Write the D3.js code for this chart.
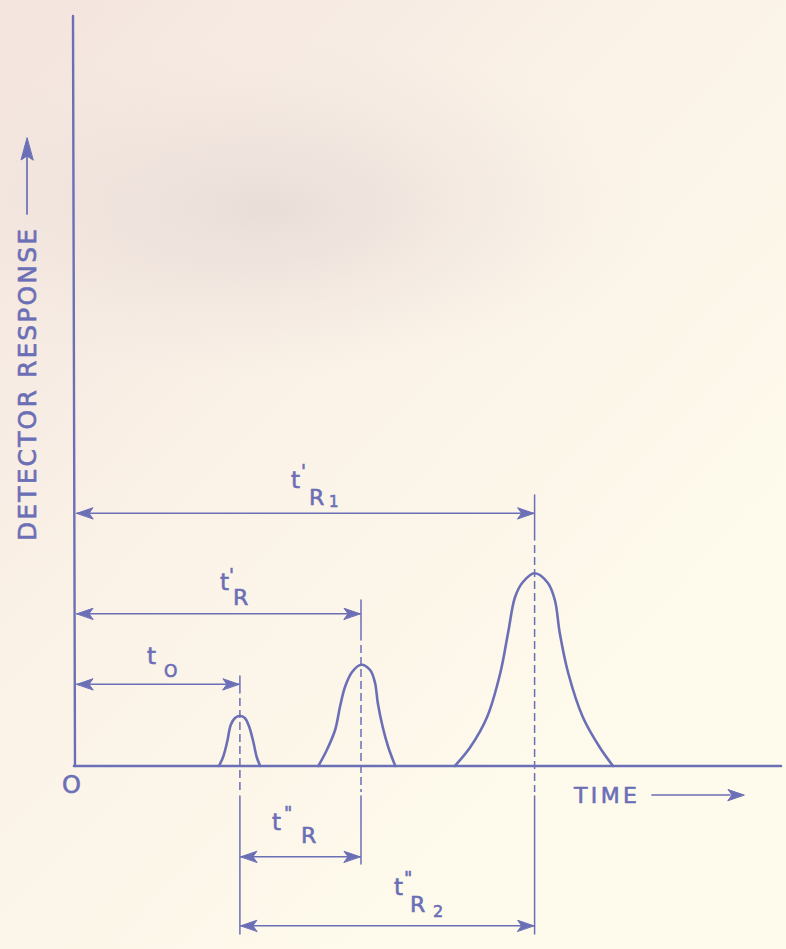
<!DOCTYPE html>
<html>
<head>
<meta charset="utf-8">
<script src="https://cdn.jsdelivr.net/npm/d3@7"></script>
<style>
  body { margin: 0; background: #fdf8ea; }
  svg { display: block; }
  text { font-family: "DejaVu Sans", sans-serif; fill: #6b6fb6; stroke: #6b6fb6; stroke-width: 0.6; }
</style>
</head>
<body>
<div id="chart"></div>
<script>
//////////////////////////////////////////////////////////////////////
////////////////////// Data //////////////////////////////////////////
//////////////////////////////////////////////////////////////////////

// peak profiles: [time, detector response]
const peak1 = [[20.7,0],[21.3,1.2],[21.9,3.3],[22.4,5.5],[23.0,6.4],[23.7,6.7],
  [24.4,6.4],[25.0,5.3],[25.6,3.3],[26.1,1.2],[26.6,0]]
const peak2 = [[34.9,0],[36.1,2.1],[37.3,4.8],[38.0,7.9],[38.7,10.5],[39.7,12.5],
  [41.0,13.5],[42.3,12.8],[43.0,11.1],[43.4,8.4],[44.1,5.2],[44.9,2.5],[45.9,0]]
const peak3 = [[54.4,0],[56.6,2.5],[59.0,6.5],[60.9,12.4],[62.0,17.7],[63.0,22.5],
  [64.1,24.5],[65.8,25.7],[67.7,24.4],[68.7,22.1],[69.4,17.7],[70.6,12.4],
  [72.7,6.5],[75.1,2.5],[77.0,0]]

// retention times: t0, t'R, t'R1
const peakTimes = [23.7, 41.0, 65.8]

// dimension arrows
const dimNames = ["t'R1", "t'R", "t0", "t\"R", "t\"R2"]
const dimStart = [0, 0, 0, 23.7, 23.7]
const dimEnd   = [65.8, 41.0, 23.7, 41.0, 65.8]

const axisLabels = { origin: "O", x: "TIME", y: "DETECTOR RESPONSE" }

//////////////////////////////////////////////////////////////////////
////////////////////// Chart /////////////////////////////////////////
//////////////////////////////////////////////////////////////////////

const width = 786
const height = 949
const ink = "#6b6fb6"

const svg = d3.select("#chart")
  .append("svg")
  .attr("width", width)
  .attr("height", height)

// paper
const defs = svg.append("defs")
const lg = defs.append("linearGradient").attr("id", "paper")
  .attr("x1", 0).attr("y1", 0.1).attr("x2", 0.7).attr("y2", 0.9)
lg.append("stop").attr("offset", 0).attr("stop-color", "#f4e6df")
lg.append("stop").attr("offset", 0.5).attr("stop-color", "#fbf3e8")
lg.append("stop").attr("offset", 1).attr("stop-color", "#fefbec")
const rg = defs.append("radialGradient").attr("id", "smudge")
rg.append("stop").attr("offset", 0).attr("stop-color", "#ddd0cf").attr("stop-opacity", 0.55)
rg.append("stop").attr("offset", 0.6).attr("stop-color", "#e6dad6").attr("stop-opacity", 0.25)
rg.append("stop").attr("offset", 1).attr("stop-color", "#ede2dc").attr("stop-opacity", 0)

svg.append("rect").attr("width", width).attr("height", height).attr("fill", "url(#paper)")
svg.append("ellipse").attr("cx", 270).attr("cy", 210).attr("rx", 390).attr("ry", 170).attr("fill", "url(#smudge)")

const x = d3.scaleLinear().domain([0, 101]).range([74, 781])
const y = d3.scaleLinear().domain([0, 100]).range([766, 16])

const g = svg.append("g")
  .attr("stroke", ink)
  .attr("fill", "none")
  .attr("stroke-linecap", "round")

// axes
g.append("line")
  .attr("x1", x(0) - 1).attr("y1", y(100))
  .attr("x2", x(0) + 1).attr("y2", y(0))
  .attr("stroke-width", 2.4)
g.append("line")
  .attr("x1", x(0)).attr("y1", y(0))
  .attr("x2", x(101)).attr("y2", y(0))
  .attr("stroke-width", 2.6)

// peaks
const line = d3.line()
  .x(d => x(d[0]))
  .y(d => y(d[1]))
  .curve(d3.curveCatmullRom.alpha(0.5))

g.selectAll(".peak")
  .data([peak1, peak2, peak3])
  .join("path")
  .classed("peak", true)
    .attr("d", line)
    .attr("stroke-width", 2.6)

// vertical marker lines (top tick, dashed through peak, solid below)
const markTop = [676, 600, 495]
const markSolidEnd = [693, 640, 540]
const markBottom = [934, 864, 934]
const dashEnd = 792

peakTimes.forEach((t, i) => {
  const px = x(t)
  g.append("line").attr("x1", px).attr("x2", px)
    .attr("y1", markTop[i]).attr("y2", markSolidEnd[i]).attr("stroke-width", 1.5)
  g.append("line").attr("x1", px).attr("x2", px)
    .attr("y1", markSolidEnd[i] + 5).attr("y2", dashEnd)
    .attr("stroke-width", 1.5).attr("stroke-dasharray", "8,4").attr("stroke-linecap", "butt")
  g.append("line").attr("x1", px).attr("x2", px)
    .attr("y1", dashEnd + 4).attr("y2", markBottom[i]).attr("stroke-width", 1.5)
})

// dimension arrows
const dimLevel = [33.7, 20.3, 10.9, -12.1, -21.3]

function arrowHead(sel, tipX, tipY, dir, vertical, len = 16, half = 5.5) {
  const pts = [[0, 0], [-len, -half], [-(len - 4), 0], [-len, half]]
    .map(([a, b]) => vertical ? [tipX + b, tipY - dir * a] : [tipX + dir * a, tipY + b])
  sel.append("path")
    .attr("d", "M" + pts.join("L") + "Z")
    .attr("fill", ink).attr("stroke", ink).attr("stroke-width", 1).attr("stroke-linejoin", "round")
}

dimNames.forEach((n, i) => {
  const x1 = x(dimStart[i]) + (dimStart[i] === 0 ? 3 : 1)
  const x2 = x(dimEnd[i]) - 1
  const py = y(dimLevel[i])
  g.append("line").attr("x1", x1).attr("x2", x2).attr("y1", py).attr("y2", py).attr("stroke-width", 1.7)
  arrowHead(g, x1, py, -1)
  arrowHead(g, x2, py, 1)
})

// dimension labels: t, primes, subscript R and index
const labelLayout = [
  { x: 291, y: 488, parts: [["t", 0, 0, 23], ["'", 10, -11, 18], ["R", 18, 17, 22], ["1", 38, 19, 15]] },
  { x: 220, y: 590, parts: [["t", 0, 0, 23], ["'", 9, -9, 18], ["R", 13, 15, 22]] },
  { x: 147, y: 664, parts: [["t", 0, 0, 23], ["O", 17, 13, 17]] },
  { x: 272, y: 830, parts: [["t", 0, 0, 23], ["\"", 12, -11, 18], ["R", 29, 13, 22]] },
  { x: 394, y: 895, parts: [["t", 0, 0, 23], ["\"", 10, -11, 18], ["R", 16, 17, 22], ["2", 39, 22, 16]] }
]

labelLayout.forEach(l => {
  l.parts.forEach(p => {
    svg.append("text")
      .attr("x", l.x + p[1])
      .attr("y", l.y + p[2])
      .attr("font-size", p[3])
      .text(p[0])
  })
})

// axis titles
svg.append("text")
  .attr("x", 62).attr("y", 793)
  .attr("font-size", 24)
  .text(axisLabels.origin)

svg.append("text")
  .attr("x", 574).attr("y", 803)
  .attr("font-size", 22)
  .attr("textLength", 63)
  .attr("lengthAdjust", "spacing")
  .text(axisLabels.x)
g.append("line").attr("x1", 652).attr("x2", 730).attr("y1", 795).attr("y2", 795).attr("stroke-width", 1.7)
arrowHead(g, 744, 795, 1)

svg.append("text")
  .attr("transform", "translate(36,541) rotate(-90)")
  .attr("font-size", 25)
  .attr("textLength", 312)
  .attr("lengthAdjust", "spacing")
  .text(axisLabels.y)
g.append("line").attr("x1", 27).attr("x2", 27).attr("y1", 214).attr("y2", 156).attr("stroke-width", 1.7)
arrowHead(g, 27, 138, 1, true, 22, 6)
</script>
</body>
</html>
